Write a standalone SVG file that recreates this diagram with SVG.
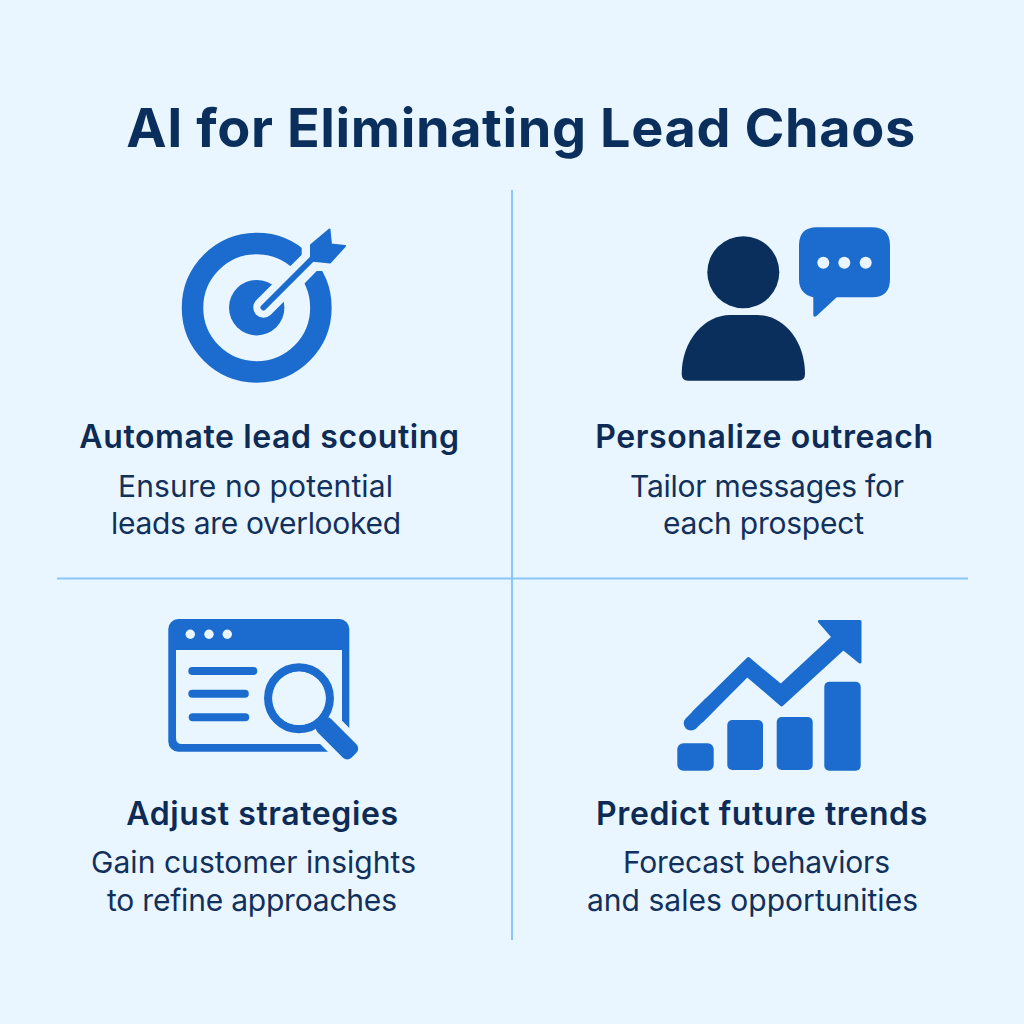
<svg xmlns="http://www.w3.org/2000/svg" width="1024" height="1024" viewBox="0 0 1024 1024">
<style>
text{font-family:Inter,"Liberation Sans",sans-serif;text-anchor:middle}
.t{font-size:54px;font-weight:700;fill:#0B2F5C;letter-spacing:.6px}
.h{font-size:32px;font-weight:600;fill:#0D2B55;letter-spacing:.6px}
.b{font-size:30px;font-weight:400;fill:#12305C}
.blue{fill:#1B6CCE}
.dot{fill:#E9F6FF}
.bg{fill:#E9F6FF}
.div{stroke:#8AC6FA;stroke-width:2;fill:none}
</style>
<rect width="1024" height="1024" class="bg"/>
<g id="title"><text class="t" x="521" y="147">AI for Eliminating Lead Chaos</text></g>
<g id="connectors">
<line class="div" x1="512" y1="190" x2="512" y2="940"/>
<line class="div" x1="57" y1="578.5" x2="968" y2="578.5"/>
</g>
<g id="node-scouting">
<circle cx="256.7" cy="307.7" r="64.2" fill="none" stroke="#1B6CCE" stroke-width="21.5"/>
<circle cx="256.7" cy="307.7" r="27.7" class="blue"/>
<line x1="263.5" y1="307.5" x2="310" y2="261" stroke="#E9F6FF" stroke-width="20.5" stroke-linecap="round"/>
<polygon class="bg" points="301.7,256.7 301.7,225 352,225 352,271 316.7,271 304,284 291.7,267.3"/>
<line x1="263.5" y1="307.5" x2="312" y2="259" stroke="#1B6CCE" stroke-width="6" stroke-linecap="round"/>
<polygon class="blue" stroke="#1B6CCE" stroke-width="2" stroke-linejoin="round" points="311,245 329.5,229.5 331,244.5 345,246 330,262.5 311,260.5"/>
<text class="h" x="269.5" y="447.5">Automate lead scouting</text>
<text class="b" x="255.5" y="497" textLength="275">Ensure no potential</text>
<text class="b" x="256" y="534" textLength="290">leads are overlooked</text>
</g>
<g id="node-outreach">
<circle cx="743.3" cy="272.3" r="36" fill="#0B2F5C"/>
<path fill="#0B2F5C" d="M681.7 374C681.7 340 705 315 730 315L757 315C783 315 805 340 805 374Q805 380.7 798 380.7L688 380.7Q681.7 380.7 681.7 374Z"/>
<path class="blue" d="M817 227.3H872Q890 227.3 890 245.3V279.3Q890 297.3 872 297.3H836.7L816.5 316Q813.3 318 813.3 314.5V297.3Q799 294 799 279.3V245.3Q799 227.3 817 227.3Z"/>
<circle cx="823.3" cy="262.7" r="6" class="dot"/>
<circle cx="844.3" cy="262.7" r="6" class="dot"/>
<circle cx="865.7" cy="262.7" r="6" class="dot"/>
<text class="h" x="764.5" y="447.5">Personalize outreach</text>
<text class="b" x="767" y="497" textLength="274">Tailor messages for</text>
<text class="b" x="763.5" y="534" textLength="201">each prospect</text>
</g>
<g id="node-strategies">
<rect x="168.3" y="619" width="181" height="132.7" rx="10" class="blue"/>
<path class="bg" d="M176 650H342V744H182Q176 744 176 738Z"/>
<circle cx="190.3" cy="634.3" r="4.7" class="dot"/>
<circle cx="209" cy="634.3" r="4.7" class="dot"/>
<circle cx="227.3" cy="634.3" r="4.7" class="dot"/>
<rect x="188.3" y="667" width="69" height="8" rx="4" class="blue"/>
<rect x="188.3" y="689.7" width="60.5" height="8" rx="4" class="blue"/>
<rect x="188.7" y="713.3" width="60.5" height="8" rx="4" class="blue"/>
<line x1="320" y1="721.3" x2="362" y2="763.3" stroke="#E9F6FF" stroke-width="32"/>
<circle cx="299" cy="698.3" r="30.8" fill="none" stroke="#1B6CCE" stroke-width="8.3"/>
<rect x="320" y="711.8" width="48" height="19" rx="6" transform="rotate(45 320 721.3)" class="blue"/>
<circle cx="299" cy="698.3" r="26.7" class="bg"/>
<text class="h" x="262.5" y="824.5">Adjust strategies</text>
<text class="b" x="253.5" y="873" textLength="325">Gain customer insights</text>
<text class="b" x="252" y="911" textLength="290">to refine approaches</text>
</g>
<g id="node-trends">
<rect x="677.3" y="743.3" width="36.4" height="27.4" rx="6" class="blue"/>
<rect x="727.3" y="720" width="35.7" height="50" rx="5" class="blue"/>
<rect x="776.7" y="717" width="36" height="53" rx="5" class="blue"/>
<rect x="824.3" y="681.7" width="36.4" height="89" rx="5" class="blue"/>
<polygon class="blue" stroke="#1B6CCE" stroke-width="3" stroke-linejoin="round" points="694,712 748.3,658.5 780.7,685.5 833,637 819.5,621.5 860,621.5 860,662 843.3,648.7 781.7,705 747.3,675.5 702,721"/>
<line x1="691" y1="723.3" x2="710" y2="704.3" stroke="#1B6CCE" stroke-width="14.5" stroke-linecap="round"/>
<text class="h" x="762" y="824.5">Predict future trends</text>
<text class="b" x="756.5" y="873" textLength="267">Forecast behaviors</text>
<text class="b" x="752.5" y="911" textLength="331">and sales opportunities</text>
</g>
</svg>
